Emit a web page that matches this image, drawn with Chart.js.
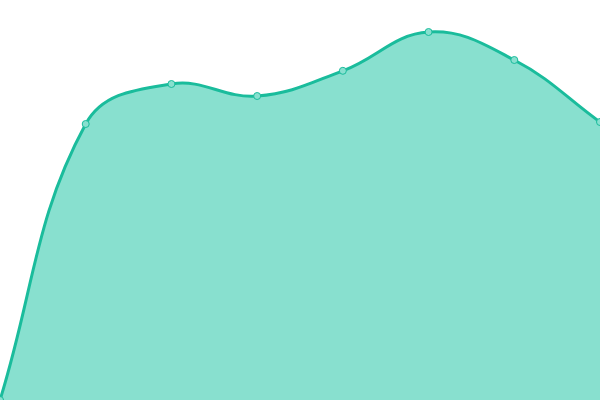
<!DOCTYPE html>
<html>
<head>
<meta charset="utf-8">
<script src="https://cdn.jsdelivr.net/npm/chart.js@4/dist/chart.umd.min.js"></script>
<style>
    html, body { margin: 0; padding: 0; background: #fff; }
    #myChart { display: block; }
</style>
</head>
<body>
<canvas id="myChart" width="600" height="400"></canvas>
<script>
// data
var labels = ["1", "2", "3", "4", "5", "6", "7", "8"];
var values = [0, 69, 79, 76, 82.3, 92, 85, 69.5];
var yRange = [0, 100];

var ctx = document.getElementById('myChart').getContext('2d');
var myChart = new Chart(ctx, {
    type: 'line',
    data: {
        labels: labels,
        datasets: [{
            data: values,
            fill: true,
            clip: false,
            backgroundColor: 'rgba(136, 224, 207, 1)',
            borderColor: 'rgba(26, 188, 156, 1)',
            borderWidth: 3,
            tension: 0.4,
            pointRadius: 3.5,
            pointBackgroundColor: 'rgba(136, 224, 207, 1)',
            pointBorderColor: 'rgba(26, 188, 156, 1)',
            pointBorderWidth: 1
        }]
    },
    options: {
        responsive: false,
        animation: false,
        layout: { padding: 0, autoPadding: false },
        plugins: {
            legend: { display: false },
            tooltip: { enabled: false }
        },
        scales: {
            x: { display: false },
            y: { display: false, min: yRange[0], max: yRange[1] }
        }
    }
});
</script>
</body>
</html>
